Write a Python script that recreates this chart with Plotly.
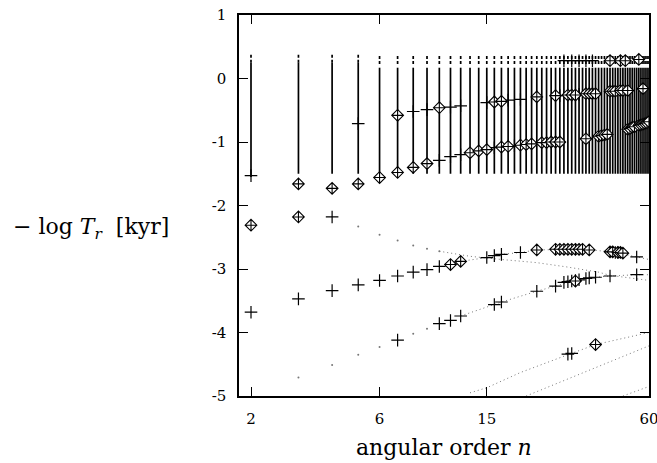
import plotly.graph_objects as go
import math

# ---------------- data ----------------
# continuum columns: angular order n and the vertical extent of the dotted spectrum
n_cont = [2, 3, 4, 5, 6, 7, 8, 9, 10, 11, 12, 13, 14, 15, 16, 17, 18, 19, 20, 21,
          22, 23, 24, 25, 26, 27, 28, 29, 30, 31, 32, 33, 34, 35, 36, 37, 38, 39, 40,
          41, 42, 43, 44, 45, 46, 47, 48, 49, 50, 51, 52, 53, 54, 55, 56, 57, 58, 59, 60]
cont_bottom = [-1.55, -1.5, -1.5, -1.5, -1.5, -1.5, -1.5, -1.5, -1.5, -1.5, -1.5, -1.5,
               -1.5, -1.5, -1.5, -1.5, -1.5, -1.5, -1.5, -1.5, -1.5, -1.5, -1.5, -1.5,
               -1.5, -1.5, -1.5, -1.5, -1.5, -1.5, -1.5, -1.5, -1.5, -1.5, -1.5, -1.5,
               -1.5, -1.5, -1.5, -1.5, -1.5, -1.5, -1.5, -1.5, -1.5, -1.5, -1.5, -1.5,
               -1.5, -1.5, -1.5, -1.5, -1.5, -1.5, -1.5, -1.5, -1.5, -1.5, -1.5]
cont_mid = [0.25, 0.25, 0.25, 0.25, 0.17, 0.17, 0.17, 0.17, 0.17, 0.17, 0.17, 0.17,
            0.17, 0.17, 0.17, 0.17, 0.17, 0.17, 0.17, 0.17, 0.17, 0.17, 0.17, 0.17,
            0.17, 0.17, 0.17, 0.17, 0.17, 0.17, 0.17, 0.17, 0.17, 0.17, 0.17, 0.17,
            0.17, 0.17, 0.17, 0.17, 0.17, 0.17, 0.17, 0.17, 0.17, 0.17, 0.17, 0.17,
            0.17, 0.17, 0.17, 0.17, 0.17, 0.17, 0.17, 0.17, 0.17, 0.17, 0.17]
cont_top = [0.38, 0.38, 0.38, 0.38, 0.38, 0.38, 0.38, 0.38, 0.38, 0.38, 0.38, 0.38,
            0.38, 0.38, 0.38, 0.38, 0.38, 0.38, 0.38, 0.38, 0.38, 0.38, 0.38, 0.38,
            0.38, 0.38, 0.38, 0.38, 0.38, 0.38, 0.38, 0.38, 0.38, 0.38, 0.38, 0.38,
            0.38, 0.38, 0.38, 0.38, 0.38, 0.38, 0.38, 0.38, 0.38, 0.38, 0.38, 0.38,
            0.38, 0.38, 0.38, 0.38, 0.38, 0.38, 0.38, 0.38, 0.38, 0.38, 0.38]

# "+" modes
plus_n = [2, 10, 11, 12, 16, 19,
          5, 8, 9, 11, 12, 15, 18, 20, 28, 33,
          29, 31, 33, 35, 37,
          4,
          2, 3, 4, 5, 6, 7, 8, 9, 10, 15, 16, 17, 20, 45, 46, 54,
          7, 10, 11, 12, 16, 17, 23, 27, 29, 30, 31, 32, 33, 35, 36, 38, 43, 54,
          30, 31]
plus_y = [-1.53, -1.29, -1.23, -1.20, -1.09, -1.06,
          -0.71, -0.52, -0.49, -0.45, -0.43, -0.38, -0.34, -0.33, -0.27, -0.25,
          0.28, 0.28, 0.28, 0.28, 0.28,
          -2.18,
          -3.68, -3.47, -3.34, -3.25, -3.18, -3.11, -3.05, -3.01, -2.96, -2.82, -2.79, -2.77, -2.74, -2.74, -2.74, -2.81,
          -4.12, -3.86, -3.81, -3.74, -3.56, -3.52, -3.35, -3.27, -3.21, -3.20, -3.19, -3.18, -3.17, -3.15, -3.14, -3.13, -3.11, -3.09,
          -4.34, -4.33]

# diamond modes
dia_n = [3, 4, 5, 6, 7, 8, 9, 13, 14, 15, 17, 18, 20, 21, 22, 24, 25, 26, 27, 28,
         35, 39, 40, 41, 42, 50, 51, 52, 53, 55, 56, 57, 58, 59, 60,
         7, 10, 16, 17, 23, 27, 30, 31, 32, 35, 36, 37, 38, 43, 44, 45, 47, 48, 50, 57,
         43, 47, 49, 55,
         2, 3,
         11, 12, 23, 27, 28, 29, 30, 31, 32, 33, 34, 36, 43, 44, 46, 47, 48,
         32,
         38]
dia_y = [-1.66, -1.73, -1.66, -1.56, -1.48, -1.40, -1.34, -1.17, -1.14, -1.12, -1.08, -1.07, -1.05, -1.04, -1.03, -1.01, -1.01, -1.00, -1.00, -1.00,
         -0.95, -0.91, -0.90, -0.89, -0.88, -0.80, -0.79, -0.77, -0.76, -0.74, -0.73, -0.72, -0.71, -0.70, -0.68,
         -0.58, -0.46, -0.37, -0.36, -0.29, -0.27, -0.26, -0.26, -0.26, -0.24, -0.24, -0.24, -0.24, -0.20, -0.20, -0.20, -0.19, -0.19, -0.19, -0.16,
         0.28, 0.28, 0.28, 0.30,
         -2.31, -2.18,
         -2.93, -2.88, -2.70, -2.69, -2.69, -2.69, -2.69, -2.69, -2.69, -2.69, -2.69, -2.70, -2.73, -2.73, -2.74, -2.74, -2.75,
         -3.19,
         -4.19]

# faint dotted branches
branchA_n = [12, 15, 17, 20, 23, 27, 30, 37, 45, 54, 60]
branchA_y = [-2.88, -2.82, -2.77, -2.74, -2.70, -2.69, -2.69, -2.70, -2.74, -2.81, -2.85]
branchB_n = [12, 16, 17, 23, 27, 32, 38, 43, 54, 60]
branchB_y = [-3.74, -3.56, -3.52, -3.35, -3.27, -3.18, -3.13, -3.11, -3.09, -3.09]
branchC_n = [10, 13, 17, 23, 30, 39, 43, 54, 60]
branchC_y = [-2.72, -2.80, -2.85, -2.90, -2.97, -3.05, -3.10, -3.15, -3.18]
branchD_n = [13, 15, 20, 25, 30, 38, 45, 60]
branchD_y = [-4.95, -4.87, -4.63, -4.47, -4.35, -4.19, -4.12, -4.00]
branchE_n = [21, 40, 60]
branchE_y = [-5.00, -4.52, -4.21]
branchF_n = [48, 60]
branchF_y = [-5.00, -4.85]
# isolated dots at low n
dots_n = [3, 4, 5, 6, 8, 9, 5, 6, 7, 8, 9, 10]
dots_y = [-4.71, -4.51, -4.35, -4.23, -4.02, -3.94, -2.33, -2.46, -2.55, -2.63, -2.68, -2.72]

x_ticks = [2, 6, 15, 60]
x_tick_text = ["2", "6", "15", "60"]
y_ticks = [-5, -4, -3, -2, -1, 0, 1]
y_tick_text = ["-5", "-4", "-3", "-2", "-1", "0", "1"]

# ---------------- figure ----------------
fig = go.Figure()

# lower solid part of continuum columns
xs, ys = [], []
for n, lo, hi in zip(n_cont, cont_bottom, cont_mid):
    xs += [n, n, None]
    ys += [lo, hi, None]
fig.add_trace(go.Scatter(x=xs, y=ys, mode="lines",
                         line=dict(color="black", width=1.7),
                         hoverinfo="skip", showlegend=False))
# upper broken part of continuum columns
xs, ys = [], []
for n, lo, hi in zip(n_cont, cont_mid, cont_top):
    xs += [n, n, None]
    ys += [lo + 0.06 if lo < 0.2 else lo, hi, None]
fig.add_trace(go.Scatter(x=xs, y=ys, mode="lines",
                         line=dict(color="black", width=1.7, dash="3px,2px"),
                         hoverinfo="skip", showlegend=False))

dot_style = dict(color="#777777", width=1, dash="1px,3px")
for bn, by in [(branchA_n, branchA_y), (branchB_n, branchB_y), (branchC_n, branchC_y),
               (branchD_n, branchD_y), (branchE_n, branchE_y), (branchF_n, branchF_y)]:
    fig.add_trace(go.Scatter(x=bn, y=by, mode="lines", line=dot_style,
                             hoverinfo="skip", showlegend=False))

fig.add_trace(go.Scatter(x=dots_n, y=dots_y, mode="markers",
                         marker=dict(symbol="circle", size=2, color="#777777"),
                         hoverinfo="skip", showlegend=False))

fig.add_trace(go.Scatter(x=plus_n, y=plus_y, mode="markers",
                         marker=dict(symbol="cross-thin-open", size=9, color="black",
                                     line=dict(color="black", width=1.2)),
                         showlegend=False))
fig.add_trace(go.Scatter(x=dia_n, y=dia_y, mode="markers",
                         marker=dict(symbol="diamond-cross", size=9, color="white",
                                     line=dict(color="black", width=1.1)),
                         showlegend=False))

tickfont = dict(family="DejaVu Serif", size=15, color="black")
fig.update_xaxes(type="log", range=[math.log10(1.805), math.log10(60.0001)],
                 tickvals=x_ticks, ticktext=x_tick_text, ticks="inside", ticklen=9,
                 tickwidth=1, tickcolor="black",
                 showline=True, linecolor="black", linewidth=1.5, mirror="ticks",
                 showgrid=False, zeroline=False, tickfont=tickfont,
                 ticklabelstandoff=8, automargin=False, ticklabeloverflow="allow")
fig.update_yaxes(range=[-5, 1], tickvals=y_ticks, ticktext=y_tick_text,
                 ticks="inside", ticklen=9, tickwidth=1, tickcolor="black",
                 showline=True, linecolor="black", linewidth=1.5, mirror="ticks",
                 showgrid=False, zeroline=False, tickfont=tickfont,
                 ticklabelstandoff=8, automargin=False, ticklabeloverflow="allow")

fig.add_annotation(text="angular order <i>n</i>", xref="paper", yref="paper",
                   x=0.5, y=-0.135, xanchor="center", yanchor="middle",
                   showarrow=False,
                   font=dict(family="DejaVu Serif", size=22, color="black"))
fig.add_annotation(text="− log <i>T</i><sub><i>r</i></sub>  [kyr]", xref="paper", yref="paper",
                   x=-0.36, y=0.44, xanchor="center", yanchor="middle",
                   showarrow=False,
                   font=dict(family="DejaVu Serif", size=22, color="black"))

fig.update_layout(width=657, height=463,
                  margin=dict(l=239, r=8, t=15, b=67, autoexpand=False),
                  plot_bgcolor="white", paper_bgcolor="white")

fig.write_html("out.html")
